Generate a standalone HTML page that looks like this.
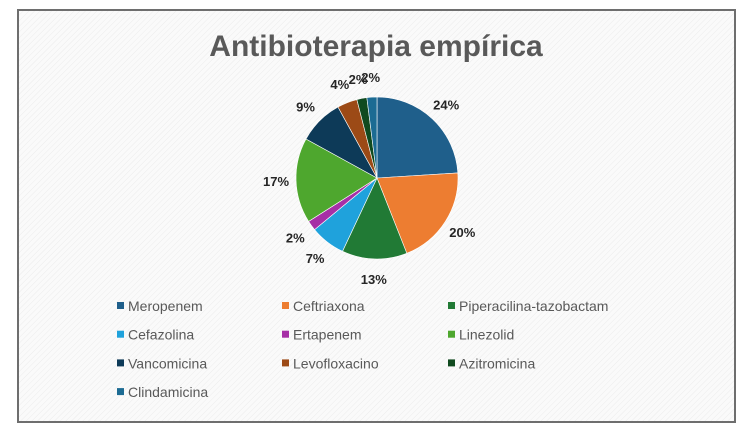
<!DOCTYPE html>
<html><head><meta charset="utf-8"><style>
body{margin:0;width:750px;height:435px;background:#fff;font-family:"Liberation Sans",sans-serif;overflow:hidden}
</style></head><body>
<svg id="c" width="750" height="435">
<defs><pattern id="hatch" width="4" height="4" patternUnits="userSpaceOnUse" patternTransform="rotate(45)"><rect width="4" height="4" fill="#fafafa"/><line x1="0" y1="0" x2="0" y2="4" stroke="#ececec" stroke-width="1"/></pattern></defs>
<rect x="18" y="10" width="717" height="412" fill="url(#hatch)" stroke="#6e6e6e" stroke-width="2"/>
<text x="376" y="56" text-anchor="middle" font-size="30" font-weight="bold" fill="#595959">Antibioterapia empírica</text>
<g id="slices"></g><g id="labels"></g><g id="legend"></g>
</svg>
<script>
const categories=["Meropenem","Ceftriaxona","Piperacilina-tazobactam","Cefazolina","Ertapenem","Linezolid","Vancomicina","Levofloxacino","Azitromicina","Clindamicina"];
const values=[24,20,13,7,2,17,9,4,2,2];
const colors=["#1f5f8b","#ed7d31","#217a35","#1fa2dc","#a62fa6","#4ea72e","#0d3a58","#9c4a16","#104a1f","#1c6b93"];
const NS="http://www.w3.org/2000/svg";
const cx=377,cy=178,r=81,lr=101;
const total=values.reduce((a,b)=>a+b,0);
let a0=-Math.PI/2;
const sg=document.getElementById('slices'),lg=document.getElementById('labels'),leg=document.getElementById('legend');
values.forEach((v,i)=>{
  const a1=a0+v/total*2*Math.PI;
  const x0=cx+r*Math.cos(a0),y0=cy+r*Math.sin(a0),x1=cx+r*Math.cos(a1),y1=cy+r*Math.sin(a1);
  const p=document.createElementNS(NS,'path');
  p.setAttribute('d',`M${cx},${cy}L${x0},${y0}A${r},${r} 0 ${(a1-a0)>Math.PI?1:0} 1 ${x1},${y1}Z`);
  p.setAttribute('fill',colors[i]);p.setAttribute('stroke','#fff');p.setAttribute('stroke-width','0.6');
  
  
  sg.appendChild(p);
  const am=(a0+a1)/2;
  const t=document.createElementNS(NS,'text');
  t.setAttribute('x',cx+lr*Math.cos(am));t.setAttribute('y',cy+lr*Math.sin(am)+5);
  t.setAttribute('text-anchor','middle');t.setAttribute('font-size','13');t.setAttribute('font-weight','bold');t.setAttribute('fill','#262626');
  t.textContent=Math.round(v/total*100)+'%';
  
  
  lg.appendChild(t);
  a0=a1;
  const col=i%3,row=Math.floor(i/3);
  const lx=[117,282,448][col],ly=307+row*28.7;
  const g=document.createElementNS(NS,'g');
  
  
  const s=document.createElementNS(NS,'rect');
  s.setAttribute('x',lx);s.setAttribute('y',ly-5);s.setAttribute('width',7);s.setAttribute('height',7);s.setAttribute('fill',colors[i]);
  const tx=document.createElementNS(NS,'text');
  tx.setAttribute('x',lx+11);tx.setAttribute('y',ly+4);tx.setAttribute('font-size','14');tx.setAttribute('fill','#595959');
  tx.textContent=categories[i];
  g.appendChild(s);g.appendChild(tx);leg.appendChild(g);
});
</script>
</body></html>
